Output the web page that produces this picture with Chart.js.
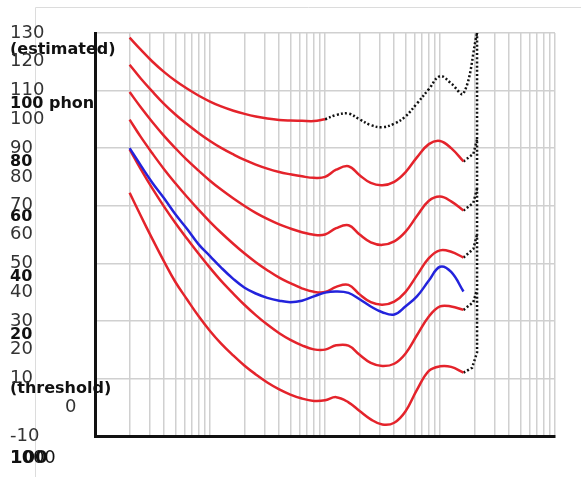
<!DOCTYPE html>
<html>
<head>
<meta charset="utf-8">
<script src="https://cdn.jsdelivr.net/npm/chart.js@4.4.1/dist/chart.umd.min.js"></script>
<style>
  html, body { margin: 0; padding: 0; background: #fff; }
  canvas { display: block; }
</style>
</head>
<body>
<canvas id="chart" width="581" height="477"></canvas>
<script>
// frequencies (Hz) of the contour points
const freqs = [20, 25, 31.5, 40, 50, 63, 80, 100, 125, 160, 200, 250, 315, 400, 500, 630, 800,
  1000, 1250, 1600, 2000, 2500, 3150, 4000, 5000, 6300, 8000, 10000, 12500, 16000];

// sound pressure level (dB) per contour
const threshold = [74.5, 66.5, 58.5, 50.5, 43.5, 37.5, 31.5, 26.5, 22.1, 17.9, 14.4, 11.4, 8.6, 6.2, 4.4, 3.0, 2.2,
  2.4, 3.5, 1.7, -1.3, -4.2, -6.0, -5.4, -1.5, 6.0, 12.6, 14.2, 14.0, 12.0];
const phon20 = [89.6, 82.7, 76.0, 69.6, 64.0, 58.6, 53.2, 48.4, 43.9, 39.4, 35.5, 32.0, 28.7, 25.7, 23.4, 21.5, 20.1,
  20.0, 21.5, 21.4, 18.2, 15.4, 14.3, 15.1, 18.6, 25.0, 31.5, 35.0, 35.0, 33.8];
const phon40 = [99.9, 93.9, 88.2, 82.6, 77.8, 73.1, 68.5, 64.4, 60.6, 56.7, 53.4, 50.4, 47.6, 45.0, 43.1, 41.3, 40.1,
  40.0, 41.8, 42.5, 39.2, 36.5, 35.6, 36.7, 40.0, 45.8, 51.8, 54.5, 54.0, 52.0];
const phon60 = [109.5, 104.2, 99.1, 94.2, 90.0, 85.9, 82.1, 78.7, 75.6, 72.5, 69.9, 67.5, 65.4, 63.5, 62.1, 60.8, 59.9,
  60.0, 62.2, 63.2, 60.0, 57.3, 56.4, 57.6, 60.9, 66.4, 71.7, 73.2, 71.5, 68.3];
const phon80 = [119.0, 114.2, 109.7, 105.3, 101.7, 98.4, 95.2, 92.5, 90.1, 87.8, 85.9, 84.3, 82.9, 81.7, 80.9, 80.2, 79.7,
  80.0, 82.5, 83.7, 80.6, 77.9, 77.1, 78.3, 81.6, 86.8, 91.4, 92.5, 90.0, 85.4];
const phon100 = [128.4, 124.2, 120.1, 116.4, 113.4, 110.7, 108.2, 106.2, 104.5, 103.0, 101.9, 101.0, 100.3, 99.8, 99.6, 99.5, 99.4,
  100.0];
// old standard, 40 phon (blue)
const oldPhon40 = [90.0, 84.0, 78.0, 72.5, 67.0, 62.0, 56.5, 52.5, 48.5, 44.5, 41.5, 39.5, 38.0, 37.0, 36.5, 37.0, 38.5,
  39.8, 40.2, 39.7, 37.5, 35.0, 33.0, 32.2, 35.0, 38.5, 44.0, 48.8, 47.0, 40.2];

// estimated part of the 100 phon contour (dotted)
const estFreqs = [1000, 1250, 1600, 2000, 2500, 3150, 4000, 5000, 6300, 8000, 10000, 12500, 16000, 21000];
const phon100Est = [100.0, 101.5, 102.0, 100.0, 98.0, 97.3, 98.5, 101.0, 105.5, 110.5, 115.0, 112.5, 109.0, 130.0];

// dotted tails at the high end
const tailFreqs = [16000, 19500, 21000];
const tail80 = [85.4, 88.0, 93.0];
const tail60 = [68.3, 71.0, 76.0];
const tail40 = [52.0, 55.0, 60.0];
const tail20 = [33.8, 36.5, 41.0];
const thresholdTailFreqs = [16000, 19000, 21000, 21000];
const thresholdTail = [12.0, 13.7, 19.0, 130.0];

// labels
const yTickLabels = ['-10', '0', '10', '20', '30', '40', '50', '60', '70', '80', '90', '100', '110', '120', '130'];
const phonLabels = ['(estimated)', '100 phon', '80', '60', '40', '20', '(threshold)'];
const phonLabelLevels = [124, 105.5, 85.3, 66.2, 45.3, 25.1, 6.3];
const xTickLabels = ['100', '1000'];

const red = '#e4232b';
const toPoints = (xs, ys) => ys.map((y, i) => ({ x: xs[i], y: y }));

const curve = (label, xs, ys, color, order) => ({
  label: label, data: toPoints(xs, ys), borderColor: color, borderWidth: 2.5,
  pointRadius: 0, fill: false, tension: 0.4, order: order
});
const dotted = (label, xs, ys, smooth) => ({
  label: label, data: toPoints(xs, ys), borderColor: '#111', borderWidth: 2.5,
  borderDash: [2, 2.2], borderCapStyle: 'butt', pointRadius: 0, fill: false,
  tension: smooth ? 0.4 : 0, order: 2
});

const textPlugin = {
  id: 'texts',
  beforeDraw(chart) {
    const ctx = chart.ctx;
    const ys = chart.scales.y;
    ctx.save();
    // faint frame of the original picture
    ctx.strokeStyle = '#dcdcdc';
    ctx.lineWidth = 1;
    ctx.beginPath();
    ctx.moveTo(35.5, 477);
    ctx.lineTo(35.5, 7.5);
    ctx.lineTo(581, 7.5);
    ctx.stroke();

    ctx.textBaseline = 'middle';
    ctx.textAlign = 'left';
    ctx.fillStyle = '#333';
    ctx.font = '18px "DejaVu Sans"';
    ctx.fillText(yTickLabels[1], 65, ys.getPixelForValue(0));

    ctx.fillStyle = '#111';
    ctx.font = 'bold 16px "DejaVu Sans"';
    phonLabels.forEach((t, i) => ctx.fillText(t, 10, ys.getPixelForValue(phonLabelLevels[i])));

    ctx.font = '18px "DejaVu Sans"';
    ctx.fillText(xTickLabels[1], 10, 458);
    ctx.font = 'bold 18px "DejaVu Sans"';
    ctx.fillText(xTickLabels[0], 10, 458);
    ctx.restore();
  }
};

new Chart(document.getElementById('chart'), {
  type: 'line',
  data: {
    datasets: [
      curve('40 phon (old)', freqs, oldPhon40, '#2323dc', 0),
      curve('threshold', freqs, threshold, red, 1),
      curve('20 phon', freqs, phon20, red, 1),
      curve('40 phon', freqs, phon40, red, 1),
      curve('60 phon', freqs, phon60, red, 1),
      curve('80 phon', freqs, phon80, red, 1),
      curve('100 phon', freqs.slice(0, phon100.length), phon100, red, 1),
      dotted('100 phon (estimated)', estFreqs, phon100Est, true),
      dotted('tail 80', tailFreqs, tail80),
      dotted('tail 60', tailFreqs, tail60),
      dotted('tail 40', tailFreqs, tail40),
      dotted('tail 20', tailFreqs, tail20),
      dotted('tail threshold', thresholdTailFreqs, thresholdTail)
    ]
  },
  options: {
    responsive: false,
    animation: false,
    layout: { padding: { left: 10, top: 33, right: 26, bottom: 0 } },
    plugins: { legend: { display: false }, tooltip: { enabled: false } },
    scales: {
      x: {
        type: 'logarithmic',
        min: 10,
        max: 100000,
        afterBuildTicks: (s) => {
          const t = [];
          for (let e = 10; e < 100000; e *= 10) {
            for (let d = 1; d < 10; d++) t.push({ value: d * e });
          }
          t.push({ value: 100000 });
          s.ticks = t;
        },
        ticks: { display: false },
        grid: { color: '#d0d0d0', lineWidth: 1.5, drawTicks: false },
        border: { color: '#111', width: 3 },
        afterFit: (s) => { s.height = 41; }
      },
      y: {
        min: -10,
        max: 130,
        ticks: {
          stepSize: 10,
          autoSkip: false,
          crossAlign: 'far',
          padding: 0,
          color: '#333',
          font: { family: 'DejaVu Sans', size: 18 },
          callback: (v, i) => (v === 0 ? '' : yTickLabels[i])
        },
        grid: {
          drawTicks: false,
          lineWidth: 1.5,
          color: (c) => ((c.tick.value + 10) % 20 === 0 ? '#d0d0d0' : 'rgba(0,0,0,0)')
        },
        border: { color: '#111', width: 3 },
        afterFit: (s) => { s.width = 85; }
      }
    }
  },
  plugins: [textPlugin]
});
</script>
</body>
</html>
